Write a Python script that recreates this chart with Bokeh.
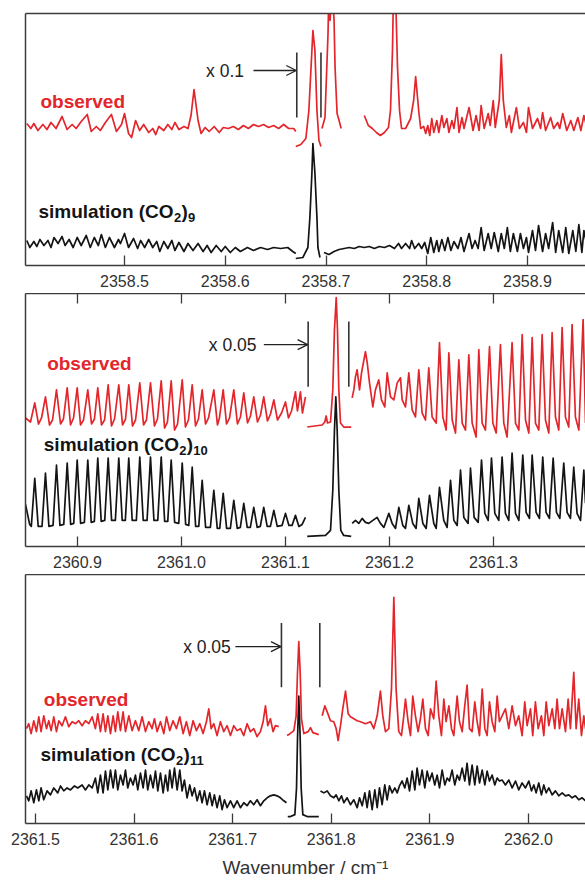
from bokeh.plotting import figure
from bokeh.layouts import column
from bokeh.models import Range1d, FixedTicker, LinearAxis, Arrow, OpenHead, PrintfTickFormatter
from bokeh.core.properties import value
from bokeh.embed import file_html
from bokeh.resources import INLINE

RED = "#e3262b"
BLACK = "#141414"
FRAME = "#3c3c3c"
FONT = "Liberation Sans"

# ---------------- panel 1 : (CO2)9 ----------------
P1_TICKS = [2358.5, 2358.6, 2358.7, 2358.8, 2358.9]
P1_OBS_A = [(2358.403,142),(2358.407,137),(2358.410,142),(2358.414,135),(2358.419,141),(2358.423,136),
            (2358.427,143),(2358.432,137),(2358.438,149),(2358.443,136),(2358.448,141),(2358.452,137),
            (2358.457,144),(2358.463,151),(2358.467,134),(2358.472,139),(2358.476,135),(2358.481,143),
            (2358.487,151),(2358.492,134),(2358.497,141),(2358.500,152),(2358.504,132),(2358.507,128),
            (2358.511,145),(2358.515,135),(2358.519,141),(2358.524,133),(2358.528,137),(2358.531,131),
            (2358.534,139),(2358.539,135),(2358.543,141),(2358.547,136),(2358.550,143),(2358.554,136),
            (2358.559,139),(2358.563,137),(2358.566,150),(2358.569,176),(2358.573,145),(2358.576,132),
            (2358.580,138),(2358.584,134),(2358.589,139),(2358.594,133),(2358.598,138),(2358.603,137),
            (2358.608,139),(2358.613,136),(2358.618,140),(2358.623,137),(2358.628,141),(2358.633,139),
            (2358.638,141),(2358.643,138),(2358.648,140),(2358.653,137),(2358.658,141),(2358.663,137),
            (2358.668,137),(2358.670,134)]
P1_OBS_B = [(2358.670,119),(2358.675,121),(2358.680,127),(2358.683,155),(2358.686,215),(2358.687,235),
            (2358.689,215),(2358.691,155),(2358.693,125),(2358.695,119)]
P1_OBS_C = [(2358.696,137),(2358.699,148),(2358.702,232),(2358.703,280),(2358.704,245),(2358.706,280),
            (2358.708,245),(2358.709,198),(2358.711,152),(2358.713,145),(2358.715,137)]
P1_OBS_D = [(2358.738,150),(2358.742,140),(2358.746,137),(2358.750,133),(2358.754,130),(2358.758,133),
            (2358.762,138),(2358.764,155),(2358.766,215),(2358.767,275),(2358.769,275),(2358.771,198),
            (2358.773,155),(2358.775,137),(2358.779,137),(2358.784,147),(2358.787,165),(2358.789,189),
            (2358.792,155),(2358.794,137),(2358.797,139),(2358.799,132),(2358.801,140),(2358.803,130),
            (2358.805,147),(2358.807,133),(2358.810,145),(2358.812,133),(2358.815,150),(2358.817,138),
            (2358.820,147),(2358.822,133),(2358.825,145),(2358.827,137),(2358.830,158),(2358.832,133),
            (2358.835,148),(2358.837,137),(2358.842,158),(2358.846,135),(2358.849,150),(2358.852,135),
            (2358.854,160),(2358.857,137),(2358.861,152),(2358.863,140),(2358.866,165),(2358.868,138),
            (2358.872,165),(2358.874,211),(2358.876,165),(2358.879,138),(2358.882,150),(2358.884,133),
            (2358.889,158),(2358.892,137),(2358.896,143),(2358.899,133),(2358.901,158),(2358.905,137),
            (2358.910,147),(2358.913,137),(2358.915,153),(2358.918,135),(2358.923,148),(2358.926,137),
            (2358.930,143),(2358.932,137),(2358.935,152),(2358.939,135),(2358.943,145),(2358.946,135),
            (2358.950,148),(2358.953,135),(2358.956,150),(2358.958,142)]
P1_SIM_A = [(2358.403,25),(2358.406,18),(2358.410,24),(2358.413,19),(2358.416,26),(2358.420,20),
            (2358.424,25),(2358.427,18),(2358.430,28),(2358.434,22),(2358.438,29),(2358.441,20),
            (2358.445,26),(2358.449,18),(2358.453,28),(2358.457,20),(2358.462,30),(2358.466,18),
            (2358.470,28),(2358.474,20),(2358.477,31),(2358.481,18),(2358.485,28),(2358.490,18),
            (2358.494,26),(2358.496,22),(2358.500,32),(2358.504,18),(2358.509,27),(2358.513,17),
            (2358.516,25),(2358.520,18),(2358.524,26),(2358.528,18),(2358.532,24),(2358.535,14),
            (2358.539,24),(2358.543,17),(2358.547,25),(2358.550,15),(2358.554,23),(2358.559,14),
            (2358.563,22),(2358.568,15),(2358.573,22),(2358.578,14),(2358.582,20),(2358.586,13),
            (2358.591,20),(2358.596,14),(2358.600,19),(2358.605,13),(2358.610,18),(2358.615,14),
            (2358.622,18),(2358.628,15),(2358.635,18),(2358.642,16),(2358.648,18),(2358.655,17),
            (2358.662,18),(2358.667,14),(2358.670,12)]
P1_SIM_B = [(2358.670,7),(2358.677,8),(2358.682,18),(2358.684,48),(2358.686,92),(2358.687,122),
            (2358.689,92),(2358.691,48),(2358.692,18),(2358.694,8)]
P1_SIM_C = [(2358.698,13),(2358.703,11),(2358.708,14),(2358.713,16),(2358.718,17),(2358.723,18),
            (2358.728,17),(2358.733,19),(2358.738,18),(2358.743,19),(2358.748,17),(2358.753,19),
            (2358.758,18),(2358.763,20),(2358.768,17),(2358.772,22),(2358.775,17),(2358.779,22),
            (2358.783,17),(2358.785,25),(2358.788,17),(2358.792,22),(2358.795,17),(2358.798,23),
            (2358.801,12),(2358.804,28),(2358.807,13),(2358.810,25),(2358.812,14),(2358.815,26),
            (2358.818,15),(2358.821,28),(2358.824,15),(2358.827,24),(2358.831,17),(2358.834,28),
            (2358.837,14),(2358.842,32),(2358.845,17),(2358.848,25),(2358.851,17),(2358.854,38),
            (2358.857,15),(2358.861,32),(2358.864,17),(2358.867,33),(2358.871,14),(2358.874,32),
            (2358.877,17),(2358.880,38),(2358.883,14),(2358.886,32),(2358.890,14),(2358.893,32),
            (2358.896,17),(2358.899,28),(2358.901,13),(2358.905,35),(2358.908,15),(2358.911,40),
            (2358.915,14),(2358.918,32),(2358.921,17),(2358.925,43),(2358.928,13),(2358.931,35),
            (2358.935,13),(2358.938,38),(2358.941,12),(2358.945,35),(2358.948,14),(2358.951,41),
            (2358.954,13),(2358.956,35),(2358.958,25)]

# ---------------- panel 2 : (CO2)10 ----------------
P2_TICKS = [2360.9, 2361.0, 2361.1, 2361.2, 2361.3]
P2_OBS_A = [(2360.8500,128),(2360.8548,124),(2360.8589,143),(2360.8625,122),(2360.8654,128),(2360.8692,149),
            (2360.8731,121),(2360.8760,126),(2360.8798,156),(2360.8837,122),(2360.8865,127),(2360.8901,158),
            (2360.8933,121),(2360.8962,128),(2360.8997,158),(2360.9029,121),(2360.9058,126),(2360.9099,156),
            (2360.9135,122),(2360.9163,127),(2360.9195,158),(2360.9231,121),(2360.9260,126),(2360.9295,161),
            (2360.9327,120),(2360.9356,127),(2360.9397,161),(2360.9433,121),(2360.9462,127),(2360.9493,161),
            (2360.9529,120),(2360.9558,126),(2360.9599,163),(2360.9635,121),(2360.9663,126),(2360.9702,163),
            (2360.9740,120),(2360.9769,127),(2360.9805,165),(2360.9837,118),(2360.9865,124),(2360.9901,165),
            (2360.9933,116),(2360.9962,122),(2361.0007,166),(2361.0038,119),(2361.0067,126),(2361.0103,161),
            (2361.0135,120),(2361.0163,127),(2361.0199,156),(2361.0231,122),(2361.0260,128),(2361.0311,156),
            (2361.0346,121),(2361.0365,128),(2361.0401,156),(2361.0433,122),(2361.0462,128),(2361.0503,156),
            (2361.0538,122),(2361.0567,129),(2361.0599,153),(2361.0635,123),(2361.0663,130),(2361.0695,149),
            (2361.0731,124),(2361.0760,131),(2361.0791,149),(2361.0827,125),(2361.0856,132),(2361.0888,146),
            (2361.0923,126),(2361.0962,133),(2361.1000,144),(2361.1029,128),(2361.1058,135),(2361.1096,154),
            (2361.1115,135),(2361.1144,154),(2361.1163,133),(2361.1192,149)]
P2_OBS_B = [(2361.1209,119),(2361.1353,121),(2361.1378,124),(2361.1391,130),(2361.1404,123),(2361.1433,124),
            (2361.1455,156),(2361.1471,216),(2361.1488,248),(2361.1500,216),(2361.1513,156),(2361.1529,123),
            (2361.1560,119),(2361.1632,119)]
P2_OBS_C = [(2361.1641,148),(2361.1657,156),(2361.1673,169),(2361.1689,176),(2361.1712,156),(2361.1731,173),
            (2361.1769,194),(2361.1785,184),(2361.1808,163),(2361.1840,139),(2361.1865,156),(2361.1897,166),
            (2361.1923,146),(2361.1955,139),(2361.1978,173),(2361.2010,149),(2361.2042,146),(2361.2074,163),
            (2361.2106,168),(2361.2122,146),(2361.2154,139),(2361.2186,173),(2361.2218,136),(2361.2250,129),
            (2361.2282,176),(2361.2314,133),(2361.2346,126),(2361.2378,178),(2361.2410,129),(2361.2449,123),
            (2361.2481,203),(2361.2513,129),(2361.2545,116),(2361.2571,193),(2361.2603,126),(2361.2635,113),
            (2361.2667,186),(2361.2699,123),(2361.2731,116),(2361.2763,191),(2361.2795,123),(2361.2833,109),
            (2361.2859,196),(2361.2891,123),(2361.2923,116),(2361.2962,199),(2361.2994,123),(2361.3026,113),
            (2361.3067,201),(2361.3099,123),(2361.3131,109),(2361.3179,203),(2361.3212,123),(2361.3244,116),
            (2361.3276,211),(2361.3308,126),(2361.3340,113),(2361.3372,208),(2361.3404,123),(2361.3436,116),
            (2361.3468,211),(2361.3500,126),(2361.3532,113),(2361.3564,213),(2361.3596,129),(2361.3628,116),
            (2361.3660,218),(2361.3692,129),(2361.3724,119),(2361.3756,221),(2361.3788,129),(2361.3821,116),
            (2361.3862,226),(2361.3885,123)]
P2_SIM_A = [(2360.8500,42),(2360.8540,22),(2360.8556,20),(2360.8589,68),(2360.8622,20),(2360.8659,20),
            (2360.8692,73),(2360.8725,20),(2360.8765,21),(2360.8798,81),(2360.8831,21),(2360.8868,22),
            (2360.8901,83),(2360.8934,22),(2360.8964,23),(2360.8997,86),(2360.9030,23),(2360.9066,24),
            (2360.9099,86),(2360.9132,24),(2360.9162,25),(2360.9195,88),(2360.9228,25),(2360.9262,26),
            (2360.9295,88),(2360.9328,26),(2360.9364,26),(2360.9397,88),(2360.9430,26),(2360.9460,26),
            (2360.9493,88),(2360.9526,26),(2360.9566,26),(2360.9599,89),(2360.9632,26),(2360.9669,26),
            (2360.9702,89),(2360.9735,26),(2360.9772,26),(2360.9805,89),(2360.9838,25),(2360.9868,25),
            (2360.9901,86),(2360.9934,24),(2360.9974,23),(2361.0007,83),(2361.0040,22),(2361.0070,21),
            (2361.0103,79),(2361.0136,20),(2361.0166,20),(2361.0199,66),(2361.0232,19),(2361.0278,19),
            (2361.0311,56),(2361.0344,18),(2361.0368,18),(2361.0401,53),(2361.0434,18),(2361.0470,18),
            (2361.0503,46),(2361.0536,18),(2361.0566,19),(2361.0599,43),(2361.0632,19),(2361.0662,19),
            (2361.0695,39),(2361.0728,19),(2361.0758,20),(2361.0791,39),(2361.0824,20),(2361.0855,20),
            (2361.0888,36),(2361.0921,20),(2361.0967,21),(2361.1000,33),(2361.1033,21),(2361.1063,21),
            (2361.1096,31),(2361.1129,20),(2361.1160,22),(2361.1192,29)]
P2_SIM_B = [(2361.1209,10),(2361.1385,11),(2361.1433,16),(2361.1455,56),(2361.1471,116),(2361.1484,149),
            (2361.1497,116),(2361.1513,56),(2361.1532,16),(2361.1560,11),(2361.1632,10)]
P2_SIM_C = [(2361.1641,23),(2361.1673,26),(2361.1705,23),(2361.1737,28),(2361.1769,24),(2361.1801,23),
            (2361.1840,26),(2361.1881,29),(2361.1913,23),(2361.1946,19),(2361.1994,33),(2361.2026,23),
            (2361.2058,18),(2361.2090,39),(2361.2128,21),(2361.2154,18),(2361.2186,41),(2361.2224,23),
            (2361.2256,18),(2361.2282,48),(2361.2321,23),(2361.2353,18),(2361.2385,51),(2361.2426,23),
            (2361.2449,18),(2361.2481,59),(2361.2522,26),(2361.2554,19),(2361.2587,66),(2361.2619,26),
            (2361.2651,21),(2361.2683,76),(2361.2715,29),(2361.2756,23),(2361.2779,78),(2361.2814,29),
            (2361.2853,24),(2361.2885,86),(2361.2917,33),(2361.2949,26),(2361.2981,88),(2361.3013,33),
            (2361.3051,26),(2361.3083,89),(2361.3115,33),(2361.3147,26),(2361.3179,93),(2361.3212,33),
            (2361.3244,26),(2361.3282,91),(2361.3314,34),(2361.3346,28),(2361.3372,91),(2361.3410,34),
            (2361.3442,28),(2361.3474,89),(2361.3506,34),(2361.3538,28),(2361.3574,88),(2361.3606,34),
            (2361.3638,28),(2361.3676,83),(2361.3708,34),(2361.3740,28),(2361.3772,79),(2361.3804,33),
            (2361.3837,26),(2361.3869,76),(2361.3885,43)]

# ---------------- panel 3 : (CO2)11 ----------------
P3_TICKS = [2361.5, 2361.6, 2361.7, 2361.8, 2361.9, 2362.0]
P3_OBS_A = [(2361.4909,96),(2361.4932,101),(2361.4956,91),(2361.4983,104),(2361.5010,93),(2361.5034,108),
            (2361.5057,93),(2361.5084,109),(2361.5112,96),(2361.5135,104),(2361.5159,94),(2361.5186,108),
            (2361.5213,93),(2361.5237,104),(2361.5270,99),(2361.5304,108),(2361.5338,98),(2361.5372,103),
            (2361.5406,101),(2361.5439,104),(2361.5473,99),(2361.5507,104),(2361.5541,101),(2361.5575,108),
            (2361.5608,96),(2361.5632,111),(2361.5659,93),(2361.5686,111),(2361.5710,93),(2361.5734,109),
            (2361.5761,91),(2361.5788,109),(2361.5811,93),(2361.5835,113),(2361.5862,94),(2361.5889,113),
            (2361.5913,93),(2361.5947,109),(2361.5980,94),(2361.6014,104),(2361.6048,94),(2361.6082,108),
            (2361.6116,93),(2361.6149,103),(2361.6183,96),(2361.6207,106),(2361.6234,93),(2361.6268,103),
            (2361.6302,91),(2361.6329,108),(2361.6362,94),(2361.6396,104),(2361.6430,96),(2361.6464,108),
            (2361.6498,91),(2361.6531,103),(2361.6565,89),(2361.6599,104),(2361.6633,94),(2361.6667,101),
            (2361.6700,91),(2361.6734,103),(2361.6758,116),(2361.6782,96),(2361.6809,101),(2361.6842,89),
            (2361.6876,103),(2361.6910,93),(2361.6944,99),(2361.6978,89),(2361.7011,99),(2361.7045,94),
            (2361.7079,96),(2361.7113,89),(2361.7147,101),(2361.7180,93),(2361.7214,96),(2361.7248,88),
            (2361.7282,93),(2361.7309,103),(2361.7333,119),(2361.7356,99),(2361.7383,106),(2361.7410,93),
            (2361.7434,99),(2361.7468,98)]
P3_OBS_B = [(2361.7552,89),(2361.7570,90),(2361.7621,94),(2361.7644,109),(2361.7658,153),(2361.7671,184),
            (2361.7685,153),(2361.7698,106),(2361.7722,91),(2361.7766,93),(2361.7790,97),(2361.7813,92),
            (2361.7874,90)]
P3_OBS_C = [(2361.7908,109),(2361.7935,119),(2361.7959,113),(2361.7992,104),(2361.8026,103),(2361.8050,96),
            (2361.8070,84),(2361.8094,99),(2361.8117,116),(2361.8145,134),(2361.8172,111),(2361.8195,108),
            (2361.8229,106),(2361.8263,104),(2361.8297,103),(2361.8347,101),(2361.8398,103),(2361.8432,96),
            (2361.8466,109),(2361.8499,134),(2361.8523,109),(2361.8550,93),(2361.8584,96),(2361.8611,136),
            (2361.8635,229),(2361.8658,136),(2361.8685,93),(2361.8712,89),(2361.8736,109),(2361.8753,126),
            (2361.8780,103),(2361.8804,89),(2361.8827,129),(2361.8854,109),(2361.8881,93),(2361.8905,106),
            (2361.8929,126),(2361.8956,96),(2361.8983,89),(2361.9007,116),(2361.9040,106),(2361.9064,144),
            (2361.9091,109),(2361.9118,89),(2361.9142,126),(2361.9165,103),(2361.9193,119),(2361.9220,96),
            (2361.9243,89),(2361.9277,129),(2361.9301,103),(2361.9328,93),(2361.9351,116),(2361.9378,140),
            (2361.9402,96),(2361.9429,93),(2361.9456,123),(2361.9480,103),(2361.9504,89),(2361.9531,136),
            (2361.9558,96),(2361.9581,89),(2361.9605,123),(2361.9632,103),(2361.9659,93),(2361.9683,129),
            (2361.9706,103),(2361.9733,109),(2361.9767,116),(2361.9801,96),(2361.9835,119),(2361.9869,99),
            (2361.9902,109),(2361.9936,89),(2361.9963,123),(2361.9987,99),(2362.0021,116),(2362.0044,89),
            (2362.0071,123),(2362.0099,96),(2362.0132,109),(2362.0156,89),(2362.0180,123),(2362.0207,99),
            (2362.0241,116),(2362.0268,96),(2362.0291,126),(2362.0315,96),(2362.0342,116),(2362.0376,93),
            (2362.0403,126),(2362.0426,96),(2362.0460,153),(2362.0484,96),(2362.0511,126),(2362.0538,89),
            (2362.0562,109),(2362.0579,96)]
P3_SIM_A = [(2361.4909,28),(2361.4932,23),(2361.4956,33),(2361.4983,21),(2361.5010,34),(2361.5034,23),
            (2361.5057,36),(2361.5084,24),(2361.5118,33),(2361.5152,29),(2361.5186,36),(2361.5226,31),
            (2361.5254,38),(2361.5287,33),(2361.5321,36),(2361.5355,34),(2361.5396,38),(2361.5429,36),
            (2361.5473,39),(2361.5507,34),(2361.5541,39),(2361.5575,36),(2361.5608,46),(2361.5632,31),
            (2361.5659,49),(2361.5686,31),(2361.5710,53),(2361.5734,34),(2361.5761,54),(2361.5788,36),
            (2361.5811,54),(2361.5835,34),(2361.5862,49),(2361.5889,39),(2361.5913,54),(2361.5936,36),
            (2361.5963,46),(2361.5990,39),(2361.6014,49),(2361.6038,34),(2361.6065,51),(2361.6092,36),
            (2361.6116,54),(2361.6139,34),(2361.6166,49),(2361.6193,36),(2361.6217,53),(2361.6241,33),
            (2361.6268,51),(2361.6295,31),(2361.6319,49),(2361.6342,33),(2361.6362,54),(2361.6386,36),
            (2361.6410,56),(2361.6437,34),(2361.6464,54),(2361.6487,33),(2361.6511,44),(2361.6538,26),
            (2361.6565,39),(2361.6589,28),(2361.6613,36),(2361.6640,23),(2361.6667,33),(2361.6690,21),
            (2361.6714,33),(2361.6741,19),(2361.6768,31),(2361.6792,18),(2361.6815,29),(2361.6842,16),
            (2361.6869,28),(2361.6893,14),(2361.6917,24),(2361.6944,16),(2361.6978,23),(2361.7011,16),
            (2361.7045,23),(2361.7079,16),(2361.7113,21),(2361.7147,18),(2361.7180,23),(2361.7214,19),
            (2361.7248,24),(2361.7282,18),(2361.7316,23),(2361.7350,26),(2361.7383,28),(2361.7417,29),
            (2361.7451,28),(2361.7485,26),(2361.7519,23),(2361.7546,21)]
P3_SIM_B = [(2361.7559,7),(2361.7587,7),(2361.7631,9),(2361.7648,36),(2361.7658,86),(2361.7671,129),
            (2361.7685,86),(2361.7695,36),(2361.7712,9),(2361.7756,7),(2361.7874,7)]
P3_SIM_C = [(2361.7891,33),(2361.7925,31),(2361.7959,33),(2361.7992,28),(2361.8026,26),(2361.8050,29),
            (2361.8077,23),(2361.8104,28),(2361.8128,21),(2361.8161,26),(2361.8195,19),(2361.8229,24),
            (2361.8263,16),(2361.8287,26),(2361.8314,18),(2361.8341,31),(2361.8364,16),(2361.8388,33),
            (2361.8415,14),(2361.8442,34),(2361.8466,16),(2361.8489,36),(2361.8516,19),(2361.8543,39),
            (2361.8567,24),(2361.8591,38),(2361.8618,31),(2361.8645,36),(2361.8669,31),(2361.8692,38),
            (2361.8719,43),(2361.8746,36),(2361.8770,46),(2361.8794,33),(2361.8821,53),(2361.8848,34),
            (2361.8871,56),(2361.8895,39),(2361.8922,54),(2361.8949,36),(2361.8973,53),(2361.8996,43),
            (2361.9023,51),(2361.9050,39),(2361.9074,49),(2361.9098,36),(2361.9125,54),(2361.9152,39),
            (2361.9176,46),(2361.9199,43),(2361.9226,54),(2361.9253,39),(2361.9277,49),(2361.9301,44),
            (2361.9328,56),(2361.9355,43),(2361.9378,61),(2361.9402,39),(2361.9429,59),(2361.9456,39),
            (2361.9480,58),(2361.9504,41),(2361.9531,54),(2361.9558,39),(2361.9581,53),(2361.9605,43),
            (2361.9632,49),(2361.9659,39),(2361.9683,46),(2361.9706,43),(2361.9733,44),(2361.9767,39),
            (2361.9801,44),(2361.9835,36),(2361.9869,43),(2361.9902,34),(2361.9936,41),(2361.9970,36),
            (2362.0004,43),(2362.0031,33),(2362.0055,39),(2362.0078,31),(2362.0105,41),(2362.0132,29),
            (2362.0156,39),(2362.0180,31),(2362.0207,36),(2362.0241,29),(2362.0274,33),(2362.0308,28),
            (2362.0342,31),(2362.0376,28),(2362.0410,29),(2362.0443,26),(2362.0477,28),(2362.0511,24),
            (2362.0545,26),(2362.0579,23)]

CLUSTER_N = ["9", "10", "11"]
SCALE_TEXT = ["x 0.1", "x 0.05", "x 0.05"]
Y_TOP = 252


def make_fig(height, xr, top, bottom, ticks, top_ticks, xlabel=None):
    p = figure(width=585, height=height, x_range=Range1d(*xr), y_range=Range1d(0, Y_TOP),
               output_backend="svg", toolbar_location=None,
               x_axis_location=None, y_axis_location=None,
               min_border_left=25, min_border_right=0, min_border_top=top, min_border_bottom=bottom)
    p.outline_line_color = None
    p.grid.visible = False
    p.background_fill_color = "white"
    p.border_fill_color = "white"
    left = LinearAxis(ticker=FixedTicker(ticks=[]), axis_line_color=FRAME, axis_line_width=1.5,
                      major_tick_line_color=None, minor_tick_line_color=None,
                      major_label_text_font_size="0px", major_label_standoff=0)
    p.add_layout(left, "left")
    below = LinearAxis(ticker=FixedTicker(ticks=ticks), formatter=PrintfTickFormatter(format="%.1f"),
                       axis_line_color=FRAME, axis_line_width=1.5,
                       major_tick_line_color=FRAME, major_tick_line_width=1.3,
                       major_tick_in=10, major_tick_out=0, minor_tick_line_color=None,
                       major_label_text_font=FONT, major_label_text_font_size="16px",
                       major_label_text_color="#333333", major_label_standoff=9)
    if xlabel:
        below.axis_label = xlabel
        below.axis_label_text_font = FONT
        below.axis_label_text_font_size = "19px"
        below.axis_label_text_font_style = "normal"
        below.axis_label_text_color = "#333333"
        below.axis_label_standoff = 9
    p.add_layout(below, "below")
    above = LinearAxis(ticker=FixedTicker(ticks=[]),
                       axis_line_color=FRAME, axis_line_width=1.5,
                       major_tick_line_color=None, minor_tick_line_color=None,
                       major_label_text_font_size="0px", major_label_standoff=0)
    p.add_layout(above, "above")
    if top_ticks:
        # inward tick marks on the top frame edge, at the same tick values
        p.segment(x0=ticks, y0=[Y_TOP] * len(ticks), x1=ticks, y1=[Y_TOP - 10] * len(ticks),
                  line_color=FRAME, line_width=1.3)
    return p


def trace(p, pts, color, width):
    p.line([a for a, b in pts], [b for a, b in pts], line_color=color, line_width=width,
           line_join="round")


def labels(p, obs_xy, sim_xy, n):
    p.text(x=[obs_xy[0]], y=[obs_xy[1]], text=["observed"], text_color=RED,
           text_font=value(FONT), text_font_style="bold", text_font_size="19px",
           text_baseline="middle", text_align="left")
    common = dict(text_color=BLACK, text_font=value(FONT), text_font_style="bold",
                  text_baseline="middle", text_align="left")
    p.text(x=[sim_xy[0]], y=[sim_xy[1]], text=["simulation (CO"], text_font_size="19px", **common)
    p.text(x=[sim_xy[0]], y=[sim_xy[1]], text=["2"], text_font_size="13px",
           x_offset=135.5, y_offset=6, **common)
    p.text(x=[sim_xy[0]], y=[sim_xy[1]], text=[")"], text_font_size="19px",
           x_offset=143, **common)
    p.text(x=[sim_xy[0]], y=[sim_xy[1]], text=[n], text_font_size="13px",
           x_offset=149.5, y_offset=6, **common)


def scale_mark(p, txt, tx, ty, ax0, ax1, m0, m1, ylo, yhi):
    p.text(x=[tx], y=[ty], text=[txt], text_color="#222222", text_font=value(FONT),
           text_font_size="17.5px", text_baseline="middle", text_align="left")
    p.add_layout(Arrow(end=OpenHead(size=10, line_width=1.3, line_color="#222222"),
                       x_start=ax0, y_start=ty, x_end=ax1, y_end=ty,
                       line_width=1.3, line_color="#222222"))
    p.segment(x0=[m0, m1], y0=[ylo, ylo], x1=[m0, m1], y1=[yhi, yhi],
              line_color="#333333", line_width=1.6)


LW_OBS = 1.7
LW_SIM = 1.7

# panel 1
p1 = make_fig(293, (2358.4017, 2358.9576), 13, 28, P1_TICKS, False)
for seg in (P1_OBS_A, P1_OBS_B, P1_OBS_C, P1_OBS_D):
    trace(p1, seg, RED, LW_OBS)
for seg in (P1_SIM_A, P1_SIM_B, P1_SIM_C):
    trace(p1, seg, BLACK, LW_SIM)
labels(p1, (2358.4166, 164), (2358.4146, 54), CLUSTER_N[0])
scale_mark(p1, SCALE_TEXT[0], 2358.581, 195, 2358.628, 2358.6705, 2358.671, 2358.695, 148, 213)

# panel 2
p2 = make_fig(281, (2360.8500, 2361.3885), 0, 28, P2_TICKS, True)
for seg in (P2_OBS_A, P2_OBS_B, P2_OBS_C):
    trace(p2, seg, RED, LW_OBS)
for seg in (P2_SIM_A, P2_SIM_B, P2_SIM_C):
    trace(p2, seg, BLACK, LW_SIM)
labels(p2, (2360.8708, 182), (2360.8676, 102), CLUSTER_N[1])
scale_mark(p2, SCALE_TEXT[1], 2361.0263, 201, 2361.0792, 2361.1213, 2361.1218, 2361.1609, 159, 224)

# panel 3
p3 = make_fig(306, (2361.4899, 2362.0579), 0, 54, P3_TICKS, False, xlabel="Wavenumber / cm\u207b\u00b9")
for seg in (P3_OBS_A, P3_OBS_B, P3_OBS_C):
    trace(p3, seg, RED, LW_OBS)
for seg in (P3_SIM_A, P3_SIM_B, P3_SIM_C):
    trace(p3, seg, BLACK, LW_SIM)
labels(p3, (2361.5085, 126), (2361.5051, 70), CLUSTER_N[2])
scale_mark(p3, SCALE_TEXT[2], 2361.6498, 179, 2361.7028, 2361.7490, 2361.7495, 2361.7884, 138, 203)

layout = column(p1, p2, p3, spacing=0)
open("out.html", "w").write(file_html(layout, INLINE))
